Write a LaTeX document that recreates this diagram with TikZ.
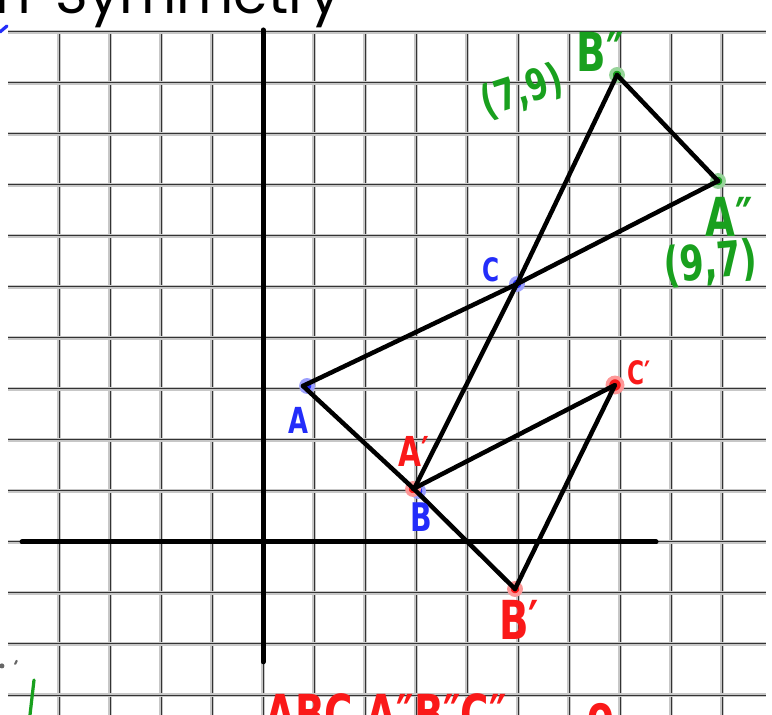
\documentclass[tikz,border=0pt]{standalone}
\usepackage{fontspec}
\usepackage{graphicx}
\usetikzlibrary{calc,positioning}
\newfontfamily\titlefont{Poppins}
\newfontfamily\handfont{DejaVu Sans Bold}
\definecolor{penblue}{RGB}{35,45,250}
\definecolor{penred}{RGB}{250,25,25}
\definecolor{pengreen}{RGB}{25,160,30}
% pen text: size, text
\newcommand{\hw}[2]{\scalebox{0.72}[1]{\fontsize{#1}{#1}\selectfont #2}}
\tikzset{
  gridline/.style={draw=black!80, line width=0.55pt, preaction={draw=black!22, line width=1.8pt}},
  axisline/.style={draw=black, line width=2.8pt, line cap=round},
  edge/.style={draw=black, line width=2.5pt, line join=round, line cap=round},
  dot/.style={circle, fill=#1, draw=#1!45, line width=2pt, inner sep=0pt, minimum size=0.24cm},
  lbl/.style={inner sep=0pt, font=\handfont, text=#1},
  mark/.style={draw=#1, line width=1.8pt, line cap=round},
}

\begin{document}
\begin{tikzpicture}
\clip (-5.157,-3.392) rectangle (9.98,10.627);

% grid and axes
\foreach \x in {-4,...,9}
  \draw[gridline] (\x,10) -- (\x,-3.4);
\foreach \y in {-3,...,10}
  \draw[gridline] (-5,\y) -- (9.86,\y);
\draw[axisline] (-4.725,0) -- (7.706,0);
\draw[axisline] (0,10.04) -- (0,-2.35);

\node[anchor=base east, inner sep=0pt, font=\titlefont\fontsize{31}{31}\selectfont] (title) at (1.53,10.36) {Rotation\hspace{0.45em}Symmetry};

% vertices
\coordinate (A) at (0.784,3.059);
\coordinate (B) at (2.961,1.039);
\coordinate (C) at (4.980,5.059);
\coordinate (A1) at (2.941,1.039);
\coordinate (B1) at (4.941,-0.922);
\coordinate (C1) at (6.902,3.078);
\coordinate (A2) at (8.922,7.078);
\coordinate (B2) at (6.941,9.157);

\node[dot=penblue] (dA) at ($(A)+(0.08,0)$) {};
\node[dot=penblue] (dC) at (C) {};
\node[dot=penblue] (dB) at ($(B)+(0.08,-0.04)$) {};
\node[dot=penred] (dA1) at (A1) {};
\node[dot=penred, minimum size=0.3cm] (dC1) at (C1) {};
\node[dot=penred] (dB1) at (B1) {};
\node[dot=pengreen] (dA2) at (A2) {};
\node[dot=pengreen] (dB2) at (B2) {};

% triangles
\draw[edge] (A) -- (C) -- (A2);
\draw[edge] (B) -- (C) -- (B2);
\draw[edge] (A2) -- (B2);
\draw[edge] (A) -- (B) -- (B1);
\draw[edge] (A1) -- (C1) -- (B1);

% labels
\node[lbl=penblue] (labA) at ($(A)+(-0.08,-0.67)$) {\hw{20}{A}};
\node[lbl=penblue] (labB) at ($(B)+(0.14,-0.55)$) {\hw{22}{B}};
\node[lbl=penblue] (labC) at ($(C)+(-0.51,0.27)$) {\hw{18}{C}};
\node[lbl=penred] (labA1) at ($(A1)+(0.02,0.74)$) {\hw{23}{A′}};
\node[lbl=penred] (labB1) at ($(B1)+(0.08,-0.61)$) {\hw{30}{B′}};
\node[lbl=penred] (labC1) at ($(C1)+(0.47,0.24)$) {\hw{18}{C′}};
\node[lbl=pengreen] (labA2) at ($(A2)+(0.22,-0.70)$) {\hw{30}{A″}};
\node[lbl=pengreen] (labB2) at ($(B2)+(-0.33,0.45)$) {\hw{30}{B″}};
\node[lbl=pengreen, rotate=18] (pB2) at ($(B2)+(-1.86,-0.33)$) {\hw{24}{(7,9)}};
\node[lbl=pengreen, rotate=5] (pA2) at ($(A2)+(-0.14,-1.62)$) {\hw{27}{(9,7)}};
\node[lbl=penred, anchor=north west] (sum) at (0.04,-2.96) {\hw{30}{ABC A″B″C″\hspace{2.2cm}o}};

% stray pen marks at the edges
\draw[mark=penblue] (-5.157,10.0) -- (-5.02,10.118);
\draw[mark=pengreen] (-4.49,-2.706) -- (-4.569,-3.392);
\fill[black!60] (-5.12,-2.43) circle (0.05);
\draw[mark=black!60, line width=1.2pt] (-4.86,-2.39) -- (-4.83,-2.33);
\end{tikzpicture}
\end{document}
